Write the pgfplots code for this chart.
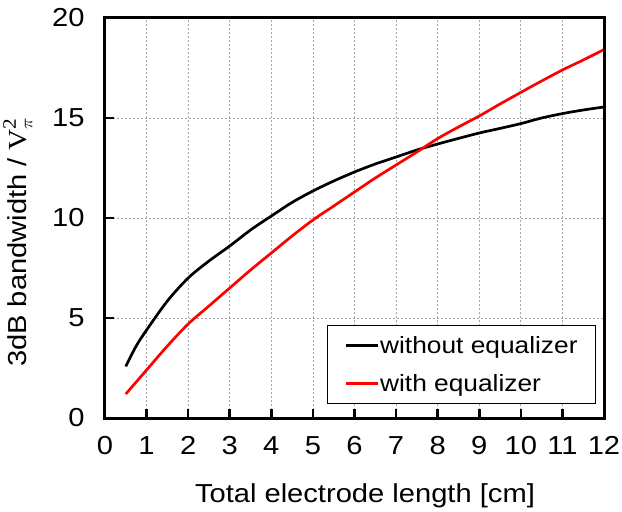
\documentclass[border=0pt]{standalone}
\usepackage{fontspec}
\setmainfont{Liberation Sans}
\newfontfamily\tnr{Liberation Serif}
\usepackage{graphicx}
\usepackage{pgfplots}
\pgfplotsset{compat=1.18}
\newcommand{\wide}[1]{\scalebox{1.12}[1]{#1}}

\begin{document}
\begin{tikzpicture}
\begin{axis}[
    name=ax,
    scale only axis,
    width=499pt, height=400pt,
    xmin=0, xmax=12, ymin=0, ymax=20,
    xtick={0,1,...,12}, ytick={0,5,...,20},
    axis line style={black, line width=3pt},
    tick pos=left, tick align=inside,
    major tick length=9pt,
    every tick/.style={black, line width=2.5pt},
    grid=major,
    major grid style={gray!70, line width=0.7pt, dash pattern=on 2pt off 2pt},
    /pgf/number format/assume math mode=true,
    xticklabel={\wide{\pgfmathprintnumber{\tick}}},
    yticklabel={\wide{\pgfmathprintnumber{\tick}}},
    ticklabel style={font=\fontsize{26}{30}\selectfont},
    xticklabel style={yshift=-15pt},
    yticklabel style={xshift=-17pt},
    label style={font=\fontsize{26}{30}\selectfont},
    xlabel={\wide{Total electrode length [cm]}},
    ylabel={\wide{3dB bandwidth / ${\mbox{\tnr V}}^{\mbox{\fontsize{19}{22}\selectfont\tnr 2}}_{\mbox{\fontsize{19}{22}\selectfont$\pi$}}$}},
    xlabel style={at={(axis description cs:0.521,-0.21)}, anchor=base},
    ylabel style={at={(axis description cs:-0.158,0.44)}, anchor=base},
    legend style={at={(0.984,0.035)}, anchor=south east,
        font=\fontsize{23.5}{28}\selectfont, draw=black, line width=0.8pt,
        inner xsep=17pt, inner ysep=10pt, row sep=17pt,
        nodes={inner sep=1pt}, cells={anchor=west}},
    legend image code/.code={\draw[#1] (0pt,0pt) -- (32pt,0pt);},
]
\addplot[draw=black, line width=2.7pt, smooth] coordinates {
    (0.5,2.58) (0.75,3.6) (1,4.4) (1.5,5.85) (2,7.0) (2.5,7.85) (3,8.6)
    (3.5,9.4) (4,10.1) (4.5,10.78) (5,11.35) (5.5,11.85) (6,12.3)
    (6.5,12.7) (7,13.05) (7.5,13.4) (8,13.7) (8.5,13.98) (9,14.25)
    (9.5,14.48) (10,14.72) (10.5,15.0) (11,15.22) (11.5,15.4) (12,15.55)
};
\addlegendentry{\wide{without equalizer}}
\addplot[draw=red, line width=2.7pt, smooth] coordinates {
    (0.5,1.2) (1,2.4) (1.5,3.6) (2,4.7) (2.5,5.6) (3,6.5) (3.5,7.4)
    (4,8.25) (4.5,9.1) (5,9.9) (5.5,10.6) (6,11.3) (6.5,12.0) (7,12.65)
    (7.5,13.3) (8,13.97) (8.5,14.55) (9,15.1) (9.5,15.7) (10,16.28)
    (10.5,16.85) (11,17.4) (11.5,17.9) (12,18.42)
};
\addlegendentry{\wide{with equalizer}}
\end{axis}
% heavier frame, as in the reference
\draw[black, line width=3pt] (ax.south west) rectangle (ax.north east);
\pgfresetboundingbox
\path[use as bounding box] (-105pt,-94pt) rectangle (517pt,418pt);
\end{tikzpicture}
\end{document}
